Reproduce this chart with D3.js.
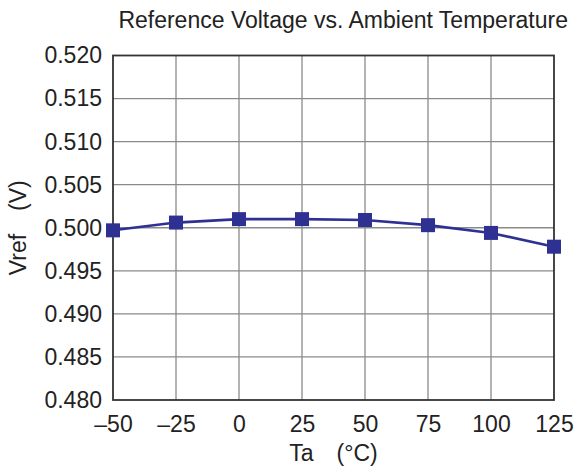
<!DOCTYPE html>
<html><head><meta charset="utf-8">
<script src="https://cdn.jsdelivr.net/npm/d3@7/dist/d3.min.js"></script>
<style>body{margin:0;background:#fff}svg{display:block}text{font-family:"Liberation Sans",Arial,sans-serif;fill:#222}</style>
</head><body><svg id="c" width="575" height="473"></svg>
<script>
const temps = [-50, -25, 0, 25, 50, 75, 100, 125];
const vref = [0.4997, 0.5006, 0.5010, 0.5010, 0.5009, 0.5003, 0.4994, 0.4978];
const xTicks = [-50, -25, 0, 25, 50, 75, 100, 125];
const yTicks = [0.480, 0.485, 0.490, 0.495, 0.500, 0.505, 0.510, 0.515, 0.520];
const title = "Reference Voltage vs. Ambient Temperature";
const xLabel = "Ta\u2003(°C)";
const yLabel = "Vref\u2003(V)";

const svg = d3.select("#c");
const L = 113, R = 554, T = 55.5, B = 400;
const x = d3.scaleLinear().domain([-50, 125]).range([L, R]);
const y = d3.scaleLinear().domain([0.480, 0.520]).range([B, T]);
const FF = '"Liberation Sans",Arial,sans-serif';

// grid
svg.append("g").selectAll("line").data(xTicks.slice(1, -1)).join("line")
  .attr("x1", d => x(d)).attr("x2", d => x(d)).attr("y1", T).attr("y2", B)
  .attr("stroke", "#8a8a8a").attr("stroke-width", 1.3);
svg.append("g").selectAll("line").data(yTicks.slice(1, -1)).join("line")
  .attr("y1", d => y(d)).attr("y2", d => y(d)).attr("x1", L).attr("x2", R)
  .attr("stroke", "#8a8a8a").attr("stroke-width", 1.3);
svg.append("rect").attr("x", L).attr("y", T).attr("width", R - L).attr("height", B - T)
  .attr("fill", "none").attr("stroke", "#333").attr("stroke-width", 1.8);

// axes labels
const fmtX = d => d < 0 ? "\u2013" + Math.abs(d) : String(d);
const xa = d3.axisBottom(x).tickValues(xTicks).tickSize(0).tickPadding(16).tickFormat(fmtX);
svg.append("g").attr("transform", `translate(0,${B})`).call(xa)
  .call(g => g.select(".domain").remove())
  .selectAll("text").attr("font-size", 23).style("font-family", FF).attr("fill", "#222");
const ya = d3.axisLeft(y).tickValues(yTicks).tickSize(0).tickPadding(11).tickFormat(d3.format(".3f"));
svg.append("g").attr("transform", `translate(${L},0)`).call(ya)
  .call(g => g.select(".domain").remove())
  .selectAll("text").attr("font-size", 23).style("font-family", FF).attr("fill", "#222");

// line + markers
const data = temps.map((t, i) => ({t, v: vref[i]}));
svg.append("path").datum(data)
  .attr("d", d3.line().x(d => x(d.t)).y(d => y(d.v)))
  .attr("fill", "none").attr("stroke", "#2e3192").attr("stroke-width", 2.6);
svg.append("g").selectAll("rect").data(data).join("rect")
  .attr("x", d => x(d.t) - 7).attr("y", d => y(d.v) - 7).attr("width", 14).attr("height", 14)
  .attr("fill", "#2e3192");

svg.append("text").attr("x", 568).attr("y", 28).attr("text-anchor", "end").attr("font-size", 23).text(title);
svg.append("text").attr("x", (L + R) / 2).attr("y", 461).attr("text-anchor", "middle").attr("font-size", 23).text(xLabel);
svg.append("text").attr("transform", `translate(26,${(T + B) / 2}) rotate(-90)`).attr("text-anchor", "middle").attr("font-size", 23).text(yLabel);
</script></body></html>
